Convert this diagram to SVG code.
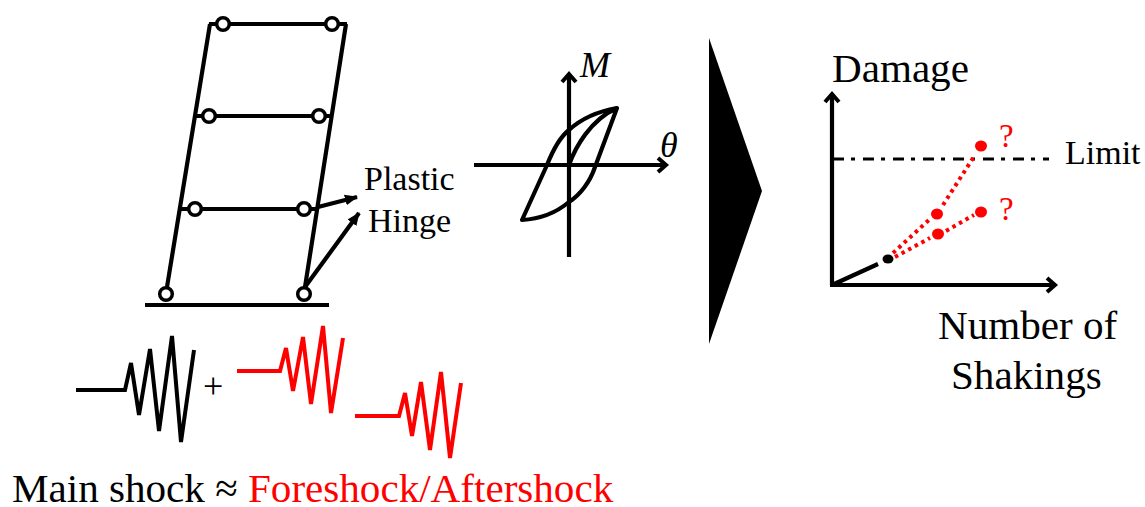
<svg xmlns="http://www.w3.org/2000/svg" width="1145" height="507" viewBox="0 0 1145 507">
<style>
text{font-family:"Liberation Serif","Times New Roman",serif;fill:#000}
.r{fill:#f00}
.l{fill:none;stroke:#000;stroke-width:4.2}
.z{fill:none;stroke-width:4;stroke-linejoin:miter}
.h{fill:#fff;stroke:#000;stroke-width:3.5}
.d{fill:none;stroke:#f00;stroke-width:4;stroke-dasharray:3.5 4}
.t{font-size:34px}
.b{font-size:41.1px}
</style>
<defs>
<marker id="a" markerUnits="userSpaceOnUse" markerWidth="20" markerHeight="20" refX="13" refY="10" orient="auto"><path d="M5 3L13 10L5 17" fill="none" stroke="#000" stroke-width="4"/></marker>
<marker id="s" markerUnits="userSpaceOnUse" markerWidth="14" markerHeight="14" refX="12" refY="7" orient="auto"><path d="M0 1.5L13 7L0 12.5Z" fill="#000"/></marker>
</defs>
<g id="frame">
<path class="l" d="M145 305H329M209 24H347M167 287L210 24M305 287L346 24M194 116H331M181 209H318"/>
<circle class="h" cx="223" cy="24" r="6.3"/><circle class="h" cx="332" cy="24" r="6.3"/>
<circle class="h" cx="209" cy="116" r="6.3"/><circle class="h" cx="319" cy="116" r="6.3"/>
<circle class="h" cx="195" cy="209" r="6.3"/><circle class="h" cx="304" cy="209" r="6.3"/>
<circle class="h" cx="166" cy="294" r="6.3"/><circle class="h" cx="304" cy="294" r="6.3"/>
</g>
<g id="connectors">
<path class="l" marker-end="url(#s)" d="M318 207L357 197"/>
<path class="l" marker-end="url(#s)" d="M305 287L359 213"/>
</g>
<g id="hinge-label"><text class="t" x="364" y="190">Plastic</text><text class="t" x="368" y="232">Hinge</text></g>
<g id="waves">
<path class="z" stroke="#000" d="M76 390H125L131 363L139 415L150 349L159 431L172 336L181 442L194 350"/>
<path class="z" stroke="#f00" d="M237 371H280L286 348L293 391L303 337L311 404L323 326L331 413L343 338"/>
<path class="z" stroke="#f00" d="M355 416H399L405 393L412 436L421 382L430 450L441 372L450 458L461 383"/>
<text x="203" y="398" font-size="36">+</text>
</g>
<g id="caption"><text class="b" x="12" y="502">Main shock ≈ <tspan class="r">Foreshock/Aftershock</tspan></text></g>
<g id="hysteresis">
<path class="l" marker-end="url(#a)" d="M474 165H666"/>
<path class="l" marker-end="url(#a)" d="M569 257V74"/>
<path class="l" stroke-linejoin="round" stroke-width="4.8" d="M522 220L547 165C553 150 560 137 569 130C582 118 600 111 617 108L595 167C590 182 580 195 569 202C557 212 540 219 522 220ZM569 165C575 148 590 120 617 108"/>
<text x="580" y="77" font-size="36" font-style="italic">M</text>
<text x="660" y="157" font-size="36" font-style="italic">θ</text>
</g>
<g id="big-arrow"><path d="M709 38L762 191L709 344Z" fill="#000"/></g>
<g id="plot">
<path class="l" marker-end="url(#a)" d="M832 285V94"/>
<path class="l" marker-end="url(#a)" d="M830 285H1055"/>
<path class="l" d="M832 285L878 264"/>
<path fill="none" stroke="#000" stroke-width="3" stroke-dasharray="11 7 4 8" d="M833 159H1049"/>
<path class="d" d="M893 253L930 219M943 205L975 155M895 257L930 238M946 231L974 215"/>
<ellipse cx="888" cy="259" rx="5.5" ry="4.5"/>
<ellipse cx="981" cy="146" rx="6" ry="5.5" fill="#f00"/>
<ellipse cx="937" cy="214" rx="6" ry="5.5" fill="#f00"/>
<ellipse cx="938" cy="234" rx="6" ry="5.5" fill="#f00"/>
<ellipse cx="981" cy="212" rx="6" ry="5.5" fill="#f00"/>
<text class="r" x="999" y="147" font-size="33">?</text>
<text class="r" x="999" y="220" font-size="33">?</text>
<text class="t" x="1065" y="164">Limit</text>
<text class="b" x="832" y="82">Damage</text>
<text class="b" x="938" y="339">Number of</text>
<text class="b" x="951" y="389">Shakings</text>
</g>
</svg>
